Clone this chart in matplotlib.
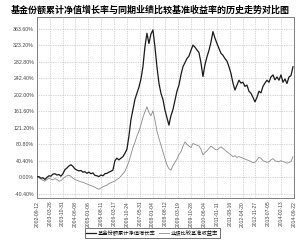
import numpy as np
import matplotlib
matplotlib.use("Agg")
import matplotlib.pyplot as plt

plt.rcParams['font.family'] = ['Liberation Sans', 'Noto Sans CJK SC', 'DejaVu Sans']

title = "基金份额累计净值增长率与同期业绩比较基准收益率的历史走势对比图"
series_names = ["基金份额累计净值增长率", "业绩比较基准收益率"]

tick_labels = ["2002-09-12", "2003-03-26", "2003-10-31", "2004-06-08", "2005-01-06",
               "2005-08-11", "2006-03-17", "2006-10-24", "2007-05-31", "2008-01-04",
               "2008-08-12", "2009-03-19", "2009-10-28", "2010-06-04", "2011-01-11",
               "2011-08-16", "2012-04-20", "2012-11-27", "2013-07-05", "2014-02-13",
               "2014-09-22"]

y_ticks = [-40.4, 0.0, 40.4, 80.8, 121.2, 161.6, 202.0, 242.4, 282.8, 323.2, 363.6]

fund = [0, 1, -3, -2, -6, -1, 3, 2, 7, 8, 5, 6, 2, 8, 18, 22, 27, 30, 26, 20,
        17, 15, 16, 12, 13, 9, 12, 8, 10, 4, 3, 1, 5, 3, 8, 9, 12, 14, 17, 40,
        46, 42, 46, 50, 58, 68, 100, 140, 165, 190, 205, 220, 240, 270, 319, 352, 327, 350, 360, 319,
        270, 230, 205, 190, 164, 145, 127, 150, 165, 188, 210, 225, 250, 270, 280, 290, 296, 310, 323, 318,
        311, 305, 280, 246, 275, 294, 310, 330, 356, 340, 327, 315, 303, 298, 290, 284, 270, 254, 230, 213,
        225, 237, 230, 232, 222, 225, 210, 205, 195, 184, 195, 210, 206, 222, 230, 237, 232, 245, 250, 238,
        245, 237, 250, 232, 240, 229, 245, 248, 270]

bench = [0, -2, -5, -8, -10, -6, -3, -5, -7, -4, -6, -10, -9, -4, 0, 3, 4, 2, -3, -6,
         -8, -10, -12, -13, -15, -17, -19, -21, -23, -25, -28, -30, -27, -24, -22, -20, -16, -14, -12, -10,
         -6, -3, 2, 8, 14, 25, 38, 55, 72, 85, 100, 112, 128, 146, 160, 172, 158, 150, 162, 140,
         112, 95, 78, 62, 45, 30, 20, 17, 28, 36, 44, 55, 62, 75, 86, 80, 76, 72, 82, 80,
         78, 76, 68, 54, 60, 64, 70, 76, 72, 68, 66, 70, 74, 70, 66, 62, 58, 54, 50, 52,
         48, 50, 48, 46, 44, 42, 40, 38, 35, 36, 42, 48, 46, 40, 38, 36, 37, 42, 45, 40,
         38, 37, 40, 38, 36, 34, 35, 38, 50]

fig = plt.figure(figsize=(3.0, 2.4), dpi=100)
ax = fig.add_axes([0.123, 0.175, 0.857, 0.754])

xs = np.linspace(0, 199.2, len(fund))
ax.plot(xs, bench, color="#8a8a8a", lw=0.6, label=series_names[1], zorder=3)
ax.plot(xs, fund, color="#1a1a1a", lw=0.9, label=series_names[0], zorder=4)

ax.set_xlim(0, 200)
ax.set_ylim(-51.4, 391.7)
ax.set_xticks(np.arange(0, 201, 10))
ax.set_xticklabels(tick_labels, rotation=90, fontsize=3.6, color="#444444")
ax.set_yticks(y_ticks)
ax.set_yticklabels(["%.2f%%" % v for v in y_ticks], fontsize=3.8, color="#444444")
ax.tick_params(length=0, pad=2)
ax.grid(True, linestyle=(0, (1, 1.5)), color="#b0b0b0", lw=0.5)
for s in ax.spines.values():
    s.set_color("#808080")
    s.set_linewidth(0.7)

fig.text(0.5, 0.958, title, ha="center", va="center", fontsize=6.5,
         fontweight="bold", family=["Noto Sans CJK SC"])

handles, labels = ax.get_legend_handles_labels()
leg = fig.legend(handles[::-1], labels[::-1], loc="center", bbox_to_anchor=(0.507, 0.029),
                 ncol=2, fontsize=3.8, frameon=True, fancybox=False, handlelength=1.8,
                 handletextpad=0.3, columnspacing=0.8, borderpad=0.35,
                 prop={"family": ["Noto Sans CJK SC"], "size": 3.8})
leg.get_frame().set_edgecolor("#333333")
leg.get_frame().set_linewidth(0.6)

fig.savefig("out.png", dpi=100)
